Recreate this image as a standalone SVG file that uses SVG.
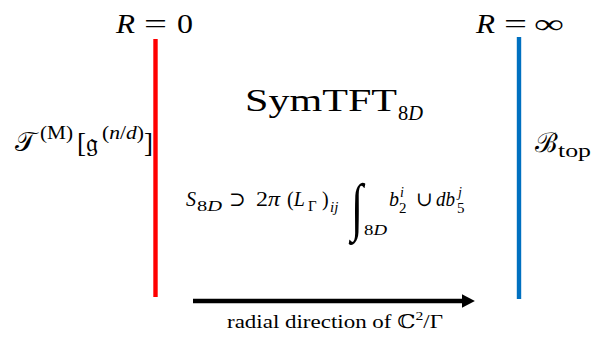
<svg xmlns="http://www.w3.org/2000/svg" width="609" height="339" viewBox="0 0 609 339" font-family="'Liberation Serif', 'Times New Roman', 'DejaVu Serif', serif">
<style>
text{fill:#000}
.it{font-style:italic}
.m{font-size:27px}
.s{font-size:18px}
.f{font-size:20px}
.fs{font-size:15px}
</style>
<defs>
<marker id="ah" markerWidth="4" markerHeight="4" refX="0" refY="2" orient="auto" markerUnits="strokeWidth"><path d="M0,0.45 L3,2 L0,3.55 z" fill="#000"/></marker>
</defs>
<rect width="609" height="339" fill="#fff"/>
<g id="left-boundary">
<line x1="155.5" y1="39" x2="155.5" y2="297" stroke="#ff0000" stroke-width="4.4"/>
<text x="116" y="33" class="m it" textLength="19" lengthAdjust="spacingAndGlyphs">R</text>
<text x="144" y="33" class="m" textLength="23" lengthAdjust="spacingAndGlyphs">=</text>
<text x="177" y="33" class="m" textLength="16" lengthAdjust="spacingAndGlyphs">0</text>
<text x="15" y="151" class="m">𝒯</text>
<text x="40" y="139" class="s" textLength="33" lengthAdjust="spacingAndGlyphs">(M)</text>
<text x="77" y="152" class="m">[</text>
<text x="86" y="152" class="m">𝔤</text>
<text x="102" y="139" class="s" textLength="42" lengthAdjust="spacingAndGlyphs">(<tspan class="it">n</tspan>/<tspan class="it">d</tspan>)</text>
<text x="144" y="152" class="m">]</text>
</g>
<g id="right-boundary">
<line x1="519" y1="37" x2="519" y2="299" stroke="#0070c0" stroke-width="4.4"/>
<text x="476" y="33" class="m it" textLength="19" lengthAdjust="spacingAndGlyphs">R</text>
<text x="504" y="33" class="m" textLength="23" lengthAdjust="spacingAndGlyphs">=</text>
<text x="534" y="33" class="m" textLength="30" lengthAdjust="spacingAndGlyphs">∞</text>
<text x="535" y="152" class="m">ℬ</text>
<text x="558" y="157" font-size="19" textLength="33" lengthAdjust="spacingAndGlyphs">top</text>
</g>
<g id="bulk">
<text x="245" y="111" font-size="31" textLength="152" lengthAdjust="spacingAndGlyphs">SymTFT</text>
<text x="398" y="120" font-size="21" textLength="25" lengthAdjust="spacingAndGlyphs">8<tspan class="it">D</tspan></text>
<text x="186" y="206" class="f it">S</text>
<text x="197" y="211" class="fs" textLength="25" lengthAdjust="spacingAndGlyphs">8<tspan class="it">D</tspan></text>
<text x="229" y="206" class="f">⊃</text>
<text x="256" y="206" class="f" textLength="24" lengthAdjust="spacingAndGlyphs">2<tspan class="it">π</tspan></text>
<text x="287" y="206" class="f">(<tspan class="it">L</tspan></text>
<text x="308" y="211" class="fs">Γ</text>
<text x="322" y="206" class="f">)</text>
<text x="330" y="212" class="fs it">ij</text>
<text transform="translate(351,228) scale(1,1.45)" font-size="44" class="it">∫</text>
<text x="364" y="235" class="fs" textLength="23" lengthAdjust="spacingAndGlyphs">8<tspan class="it">D</tspan></text>
<text x="389" y="206" class="f it">b</text>
<text x="400" y="197" font-size="14" class="it">i</text>
<text x="399" y="213" class="fs">2</text>
<text x="416" y="206" class="f">∪</text>
<text x="436" y="206" class="f it" textLength="19" lengthAdjust="spacingAndGlyphs">db</text>
<text x="458" y="197" font-size="14" class="it">j</text>
<text x="457" y="213" class="fs">5</text>
</g>
<g id="connectors">
<line x1="193" y1="301" x2="462" y2="301" stroke="#000" stroke-width="4.3" marker-end="url(#ah)"/>
<text x="227" y="328" font-size="19" textLength="216" lengthAdjust="spacingAndGlyphs">radial direction of ℂ<tspan font-size="13" dy="-8">2</tspan><tspan dy="8">/Γ</tspan></text>
</g>
</svg>
